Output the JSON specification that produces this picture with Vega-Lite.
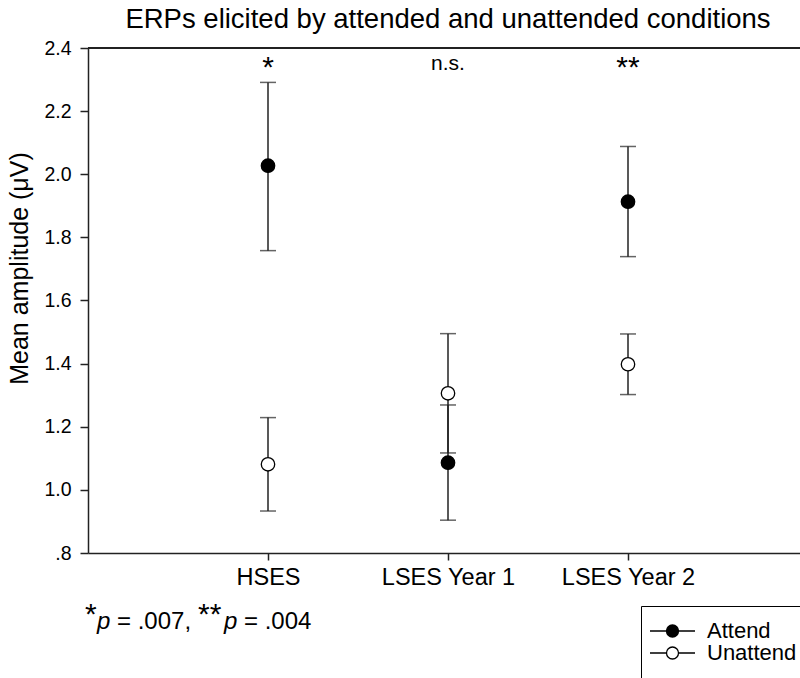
{
  "$schema": "https://vega.github.io/schema/vega-lite/v6.json",
  "autosize": {"type": "none"},
  "width": 720,
  "height": 505,
  "padding": {"left": 88, "top": 48, "right": -8, "bottom": 125},
  "background": "white",
  "config": {"view": {"stroke": null}, "font": "Liberation Sans"},
  "title": {"text": "ERPs elicited by attended and unattended conditions", "fontSize": 27.5, "fontWeight": "normal", "font": "Liberation Sans", "color": "#000", "anchor": "middle", "baseline": "alphabetic", "offset": 18, "dy": 35, "dx": 0},
  "datasets": {
    "erp": [
      {"group": "HSES", "condition": "Attend", "mean": 2.027, "lo": 1.758, "hi": 2.291},
      {"group": "HSES", "condition": "Unattend", "mean": 1.081, "lo": 0.933, "hi": 1.229},
      {"group": "LSES Year 1", "condition": "Attend", "mean": 1.086, "lo": 0.904, "hi": 1.269},
      {"group": "LSES Year 1", "condition": "Unattend", "mean": 1.306, "lo": 1.117, "hi": 1.495},
      {"group": "LSES Year 2", "condition": "Attend", "mean": 1.913, "lo": 1.739, "hi": 2.088},
      {"group": "LSES Year 2", "condition": "Unattend", "mean": 1.398, "lo": 1.302, "hi": 1.494}
    ],
    "sig": [
      {"group": "HSES", "sig": "*"},
      {"group": "LSES Year 1", "sig": "n.s."},
      {"group": "LSES Year 2", "sig": "**"}
    ]
  },
  "layer": [
    {
      "data": {"name": "erp"},
      "mark": {"type": "rule", "color": "#222", "strokeWidth": 1.5},
      "encoding": {
        "x": {"field": "group", "type": "nominal",
          "scale": {"type": "point", "domain": ["HSES", "LSES Year 1", "LSES Year 2"], "padding": 1},
          "axis": {"title": null, "labelAngle": 0, "labelFontSize": 23.5, "labelFont": "Liberation Sans", "labelColor": "#000", "domainColor": "#222", "domainWidth": 1.5, "tickColor": "#222", "tickWidth": 1.5, "tickSize": 7, "labelPadding": 5}},
        "y": {"field": "lo", "type": "quantitative",
          "scale": {"domain": [0.8, 2.4], "nice": false, "zero": false},
          "axis": {"title": "Mean amplitude (μV)", "values": [0.8, 1.0, 1.2, 1.4, 1.6, 1.8, 2.0, 2.2, 2.4],
            "labelExpr": "datum.value < 0.9 ? '.8' : format(datum.value, '.1f')",
            "grid": false, "domainColor": "#222", "domainWidth": 1.5, "tickColor": "#222", "tickWidth": 1.5, "tickSize": 8,
            "labelFontSize": 19.5, "labelFont": "Liberation Sans", "labelColor": "#000", "labelPadding": 9,
            "titleFontSize": 25, "titleFontWeight": "normal", "titleColor": "#000", "titleFont": "Liberation Sans",
            "titleX": -61, "titleY": 220, "titleBaseline": "alphabetic", "titleAngle": -90, "titleAlign": "center"}},
        "y2": {"field": "hi"}
      }
    },
    {
      "data": {"name": "erp"},
      "mark": {"type": "tick", "orient": "horizontal", "size": 16, "thickness": 1.5, "color": "#222"},
      "encoding": {
        "x": {"field": "group", "type": "nominal"},
        "y": {"field": "lo", "type": "quantitative"}
      }
    },
    {
      "data": {"name": "erp"},
      "mark": {"type": "tick", "orient": "horizontal", "size": 16, "thickness": 1.5, "color": "#222"},
      "encoding": {
        "x": {"field": "group", "type": "nominal"},
        "y": {"field": "hi", "type": "quantitative"}
      }
    },
    {
      "data": {"name": "erp"},
      "mark": {"type": "rule", "color": "#222", "strokeWidth": 1.5},
      "encoding": {"y": {"datum": 2.4, "type": "quantitative"}}
    },
    {
      "data": {"name": "erp"},
      "mark": {"type": "point", "shape": "circle", "filled": true, "size": 180, "stroke": "#000", "strokeWidth": 1.3, "opacity": 1},
      "encoding": {
        "x": {"field": "group", "type": "nominal"},
        "y": {"field": "mean", "type": "quantitative"},
        "fill": {"field": "condition", "type": "nominal",
          "scale": {"domain": ["Attend", "Unattend"], "range": ["#000", "#fff"]},
          "legend": {"title": null, "orient": "none", "legendX": 553, "legendY": 558, "direction": "vertical",
            "strokeColor": "#000", "fillColor": "#fff", "padding": 14,
            "symbolType": "M-3.75,0H-1M1,0H3.75M1,0A1,1 0 1 1 -1,0A1,1 0 1 1 1,0",
            "symbolSize": 144, "symbolStrokeColor": "#000", "symbolStrokeWidth": 1.3, "symbolOffset": 6.5,
            "labelOffset": 23.5, "labelFontSize": 22, "labelFont": "Liberation Sans", "labelColor": "#000", "rowPadding": 0, "labelLimit": 300}}
      }
    },
    {
      "data": {"name": "sig"},
      "transform": [{"filter": "datum.sig !== 'n.s.'"}],
      "mark": {"type": "text", "fontSize": 30, "align": "center", "baseline": "alphabetic", "color": "#000"},
      "encoding": {
        "x": {"field": "group", "type": "nominal"},
        "y": {"datum": 2.307, "type": "quantitative"},
        "text": {"field": "sig"}
      }
    },
    {
      "data": {"name": "sig"},
      "transform": [{"filter": "datum.sig === 'n.s.'"}],
      "mark": {"type": "text", "fontSize": 21, "align": "center", "baseline": "alphabetic", "color": "#000"},
      "encoding": {
        "x": {"field": "group", "type": "nominal"},
        "y": {"datum": 2.33, "type": "quantitative"},
        "text": {"field": "sig"}
      }
    },
    {
      "data": {"values": [{"note": "*"}]},
      "mark": {"type": "text", "fontSize": 30, "align": "left", "baseline": "alphabetic", "dx": -183, "dy": -5, "color": "#000"},
      "encoding": {"x": {"datum": "HSES", "type": "nominal"}, "y": {"datum": 0.559, "type": "quantitative"}, "text": {"field": "note"}}
    },
    {
      "data": {"values": [{"note": "p"}]},
      "mark": {"type": "text", "fontSize": 24, "fontStyle": "italic", "align": "left", "baseline": "alphabetic", "dx": -171, "color": "#000"},
      "encoding": {"x": {"datum": "HSES", "type": "nominal"}, "y": {"datum": 0.559, "type": "quantitative"}, "text": {"field": "note"}}
    },
    {
      "data": {"values": [{"note": "= .007,"}]},
      "mark": {"type": "text", "fontSize": 24, "align": "left", "baseline": "alphabetic", "dx": -151, "color": "#000"},
      "encoding": {"x": {"datum": "HSES", "type": "nominal"}, "y": {"datum": 0.559, "type": "quantitative"}, "text": {"field": "note"}}
    },
    {
      "data": {"values": [{"note": "**"}]},
      "mark": {"type": "text", "fontSize": 30, "align": "left", "baseline": "alphabetic", "dx": -70, "dy": -5, "color": "#000"},
      "encoding": {"x": {"datum": "HSES", "type": "nominal"}, "y": {"datum": 0.559, "type": "quantitative"}, "text": {"field": "note"}}
    },
    {
      "data": {"values": [{"note": "p"}]},
      "mark": {"type": "text", "fontSize": 24, "fontStyle": "italic", "align": "left", "baseline": "alphabetic", "dx": -44, "color": "#000"},
      "encoding": {"x": {"datum": "HSES", "type": "nominal"}, "y": {"datum": 0.559, "type": "quantitative"}, "text": {"field": "note"}}
    },
    {
      "data": {"values": [{"note": "= .004"}]},
      "mark": {"type": "text", "fontSize": 24, "align": "left", "baseline": "alphabetic", "dx": -24, "color": "#000"},
      "encoding": {"x": {"datum": "HSES", "type": "nominal"}, "y": {"datum": 0.559, "type": "quantitative"}, "text": {"field": "note"}}
    }
  ]
}
